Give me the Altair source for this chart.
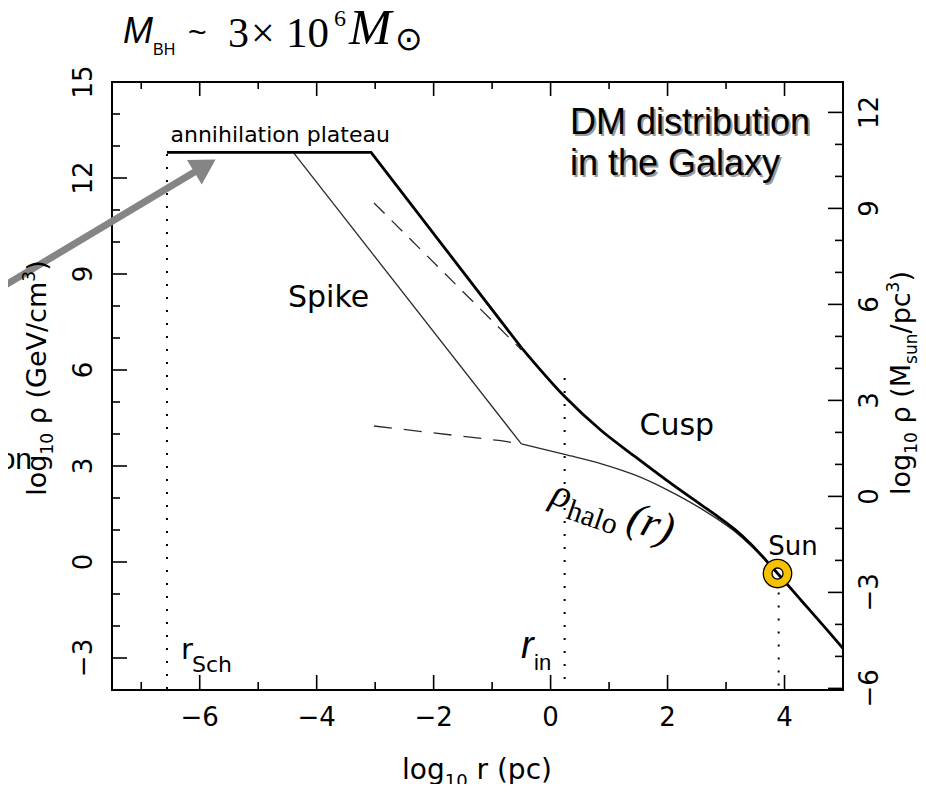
import math
import altair as alt
import pandas as pd

# ---------------- values ----------------
x_domain = [-7.5, 5.0]            # log10 r (pc)
y_domain = [-4.0, 15.0]           # log10 rho (GeV/cm^3)
right_axis_shift = 2.05           # right-axis value = left-axis value - shift

x_major = [-6, -4, -2, 0, 2, 4]
x_minor = [-7, -5, -3, -1, 1, 3]
y_major = [-3, 0, 3, 6, 9, 12, 15]
y_minor = [-4, -2, -1, 1, 2, 4, 5, 7, 8, 10, 11, 13, 14]
y2_major = [-6, -3, 0, 3, 6, 9, 12]
y2_minor = [-5, -4, -2, -1, 1, 2, 4, 5, 7, 8, 10, 11]

# thick curve, part 1: annihilation plateau + spike (straight segments)
plateau_x = [-6.56, -3.07, -0.50]
plateau_y = [12.80, 12.80, 6.70]
# thick curve, part 2: cusp (smooth)
cusp_x = [-0.50, 0.24, 0.87, 1.44, 2.01, 2.58, 2.86, 3.15, 3.43, 3.83, 4.29, 4.75, 5.00]
cusp_y = [6.70, 5.17, 4.10, 3.30, 2.52, 1.78, 1.42, 1.02, 0.55, -0.25, -1.21, -2.17, -2.70]
# thin spike on top of the halo
spike_x = [-4.40, -0.50]
spike_y = [12.80, 3.69]
# thin halo profile
halo_x = [-0.50, 0.24, 0.87, 1.44, 2.01, 2.58, 3.15, 3.43, 3.72]
halo_y = [3.69, 3.36, 3.07, 2.72, 2.24, 1.66, 0.95, 0.50, -0.03]
# dashed extrapolations
upper_dash_x = [-3.02, -0.50]
upper_dash_y = [11.22, 6.63]
lower_dash_x = [-3.02, -0.85, -0.50]
lower_dash_y = [4.25, 3.79, 3.69]

# dotted vertical markers: r_Sch, r_in, Sun
marker_x = [-6.56, 0.24, 3.90]
marker_top = [12.75, 5.75, -0.95]
sun_x = [3.88]
sun_y = [-0.36]

# grey arrow (tail, head centre)
arrow_x = [-9.41, -5.91]
arrow_y = [8.56, 12.38]

# in-plot labels
label_text = ["annihilation plateau", "Spike", "Cusp", "Sun"]
label_x = [-6.50, -4.49, 1.52, 3.72]
label_y = [13.13, 7.98, 3.97, 0.22]
label_size = [22, 30, 30, 26]


def fmt(v):
    return str(v).replace("-", "\u2212")


x_major_text = [fmt(v) for v in x_major]
y_major_text = [fmt(v) for v in y_major]
y2_major_text = [fmt(v) for v in y2_major]

# ---------------- layout ----------------
W, H = 731, 608
PAD = {"left": 104, "top": 74, "right": 75, "bottom": 94}
OX, OY = 8 + PAD["left"], 8 + PAD["top"]   # page position of plot origin

xs = alt.Scale(domain=x_domain, nice=False, zero=False)
ys = alt.Scale(domain=y_domain, nice=False, zero=False)

AX_FONT = "DejaVu Sans"


def X(f="x"):
    return alt.X(f"{f}:Q", scale=xs, axis=None)


def Y(f="y"):
    return alt.Y(f"{f}:Q", scale=ys, axis=None)


def line(xv, yv, **mk):
    df = pd.DataFrame({"x": xv, "y": yv})
    return alt.Chart(df).mark_line(**mk).encode(x=X(), y=Y())


one = pd.DataFrame({"a": [0]})


def ptext(txt, px, py, size, font=AX_FONT, angle=0, style="normal", align="left",
          baseline="alphabetic", color="black", dx=0, dy=0):
    """annotation text at page pixel position (px, py)"""
    return alt.Chart(one).mark_text(
        text=txt, font=font, fontSize=size, fontStyle=style, align=align,
        baseline=baseline, angle=angle, color=color, dx=dx, dy=dy
    ).encode(x=alt.value(px - OX), y=alt.value(py - OY))


CW = {'l': .278, 'o': .612, 'g': .635, '1': .636, '0': .636, ' ': .318, 'ρ': .640,
      '(': .390, ')': .390, 'G': .775, 'e': .615, 'V': .684, '/': .337, 'c': .550,
      'm': .974, '3': .636, 'M': .863, 's': .521, 'u': .634, 'n': .634, 'p': .635,
      'r': .411}


def rich(parts, cx, cy, angle):
    """parts: (text, size, shift) laid out along a direction, centred on (cx, cy).
    Leading spaces are turned into an advance of the pen."""
    a = math.radians(angle)
    d = (math.cos(a), math.sin(a))
    n = (-math.sin(a), math.cos(a))
    lens = [sum(CW.get(ch, .6) for ch in t) * s for t, s, _ in parts]
    total = sum(lens)
    px, py = cx - d[0] * total / 2, cy - d[1] * total / 2
    out = []
    for (t, s, sh), L in zip(parts, lens):
        lead = len(t) - len(t.lstrip(" "))
        adv = lead * CW[' '] * s
        out.append(ptext(t.strip(" "), px + d[0] * adv + n[0] * sh, py + d[1] * adv + n[1] * sh, s,
                         angle=angle % 360))
        px += d[0] * L
        py += d[1] * L
    return out


# ---------------- ticks and tick labels ----------------
TICK = dict(color="black", strokeWidth=1.6)
ytick_major = alt.Chart(pd.DataFrame({"y": y_major})).mark_rule(**TICK).encode(
    y=Y(), x=alt.value(0), x2=alt.value(15))
ytick_minor = alt.Chart(pd.DataFrame({"y": y_minor})).mark_rule(**TICK).encode(
    y=Y(), x=alt.value(0), x2=alt.value(8))
xt_major_b = alt.Chart(pd.DataFrame({"x": x_major})).mark_rule(**TICK).encode(
    x=X(), y=alt.value(H), y2=alt.value(H - 15))
xt_minor_b = alt.Chart(pd.DataFrame({"x": x_minor})).mark_rule(**TICK).encode(
    x=X(), y=alt.value(H), y2=alt.value(H - 8))
xt_major_t = alt.Chart(pd.DataFrame({"x": x_major})).mark_rule(**TICK).encode(
    x=X(), y=alt.value(0), y2=alt.value(14))
xt_minor_t = alt.Chart(pd.DataFrame({"x": x_minor})).mark_rule(**TICK).encode(
    x=X(), y=alt.value(0), y2=alt.value(7))
rtick_major = alt.Chart(pd.DataFrame({"v": y2_major})).transform_calculate(
    y=f"datum.v + {right_axis_shift}").mark_rule(**TICK).encode(
    y=Y(), x=alt.value(W), x2=alt.value(W - 15))
rtick_minor = alt.Chart(pd.DataFrame({"v": y2_minor})).transform_calculate(
    y=f"datum.v + {right_axis_shift}").mark_rule(**TICK).encode(
    y=Y(), x=alt.value(W), x2=alt.value(W - 8))

xlab = alt.Chart(pd.DataFrame({"x": x_major, "t": x_major_text})).mark_text(
    font=AX_FONT, fontSize=26, align="center", baseline="top", color="black").encode(
    x=X(), y=alt.value(H + 15), text="t:N")
ylab = alt.Chart(pd.DataFrame({"y": y_major, "t": y_major_text})).mark_text(
    font=AX_FONT, fontSize=26, align="center", baseline="alphabetic", angle=270, color="black").encode(
    y=Y(), x=alt.value(-20), text="t:N")
y2lab = alt.Chart(pd.DataFrame({"v": y2_major, "t": y2_major_text})).transform_calculate(
    y=f"datum.v + {right_axis_shift}").mark_text(
    font=AX_FONT, fontSize=26, align="center", baseline="top", angle=270, color="black").encode(
    y=Y(), x=alt.value(W + 14), text="t:N")

# ---------------- curves ----------------
thick1 = line(plateau_x, plateau_y, color="black", strokeWidth=2.8, strokeJoin="miter")
thick2 = line(cusp_x, cusp_y, color="black", strokeWidth=2.8, interpolate="monotone")
spike = line(spike_x, spike_y, color="#2a2a2a", strokeWidth=1.3)
halo = line(halo_x, halo_y, color="#2a2a2a", strokeWidth=1.3, interpolate="monotone")
dash_up = line(upper_dash_x, upper_dash_y, color="#2a2a2a", strokeWidth=1.3, strokeDash=[15, 10])
dash_lo = line(lower_dash_x, lower_dash_y, color="#2a2a2a", strokeWidth=1.3, strokeDash=[18, 12])

vlines = alt.Chart(pd.DataFrame({"x": marker_x, "top": marker_top, "bottom": [y_domain[0]] * 3})).mark_rule(
    color="black", strokeWidth=2, strokeDash=[2, 11]).encode(
    x=X(), y=Y("top"), y2="bottom:Q")

sun_df = pd.DataFrame({"x": sun_x, "y": sun_y})
sun_outline = alt.Chart(sun_df).mark_point(shape="circle", filled=False, size=390, stroke="black",
                                           strokeWidth=10, opacity=1).encode(x=X(), y=Y())
sun_ring = alt.Chart(sun_df).mark_point(shape="circle", filled=False, size=390, stroke="#F6C100",
                                        strokeWidth=7.4, opacity=1).encode(x=X(), y=Y())

arrow_line = line(arrow_x, arrow_y, color="#858585", strokeWidth=7, clip=False)
arrow_head = alt.Chart(pd.DataFrame({"x": [arrow_x[1]], "y": [arrow_y[1]]})).mark_point(
    shape="triangle-right", filled=True, size=818, color="#858585", opacity=1, angle=329).encode(x=X(), y=Y())

labels = alt.Chart(pd.DataFrame({"x": label_x, "y": label_y, "t": label_text, "s": label_size})).mark_text(
    font=AX_FONT, align="left", baseline="alphabetic", color="black").encode(
    x=X(), y=Y(), text="t:N", size=alt.Size("s:Q", scale=None, legend=None))

# ---------------- annotations ----------------
ann = []
# title  M_BH ~ 3x10^6 M_sun
ann += [
    ptext("M", 123, 43, 36, font="Liberation Sans", style="italic"),
    ptext("BH", 153, 55, 16, font="Liberation Sans"),
    ptext("~", 188, 43, 32, font="Liberation Sans"),
    ptext("3", 228, 47, 42, font="Liberation Serif"),
    ptext("×", 251, 47, 42, font="Liberation Serif"),
    ptext("10", 286, 47, 43, font="Liberation Serif"),
    ptext("6", 334, 26, 24, font="Liberation Serif"),
    ptext("M", 349, 44, 51, font="Liberation Serif", style="italic"),
    ptext("⊙", 395, 50, 33, font="DejaVu Sans"),
]
# DM distribution text with shadow
for line_txt, base in [("DM distribution", 134), ("in the Galaxy", 175)]:
    ann.append(ptext(line_txt, 570, base, 36, font="Liberation Sans", color="#9a9a9a", dx=2, dy=2))
    ann.append(ptext(line_txt, 570, base, 36, font="Liberation Sans"))
# r_Sch and r_in
ann += [
    ptext("r", 181, 659, 29),
    ptext("Sch", 192, 672, 22),
    ptext("r", 521, 658, 38, font="Liberation Sans", style="italic"),
    ptext("in", 534, 670, 22, font="Liberation Sans"),
]
# rho_halo(r), rotated
ang = 19
ca, sa = math.cos(math.radians(ang)), math.sin(math.radians(ang))
rx, ry = 549, 503
ann.append(ptext("ρ", rx, ry, 40, font="Liberation Serif", style="italic", angle=ang))
hx, hy = rx + 20 * ca - 9 * sa, ry + 20 * sa + 9 * ca
ann.append(ptext("halo", hx, hy, 30, font="Liberation Serif", angle=ang))
px2, py2 = rx + 80 * ca, ry + 80 * sa
ann.append(ptext("(r)", px2, py2, 44, font="Liberation Serif", style="italic", angle=ang))
# cut-off word at the left edge
ann.append(ptext("on", 32, 469, 30, font="Liberation Sans", align="right"))
# axis titles
ann += rich([("log", 28, 0), ("10", 18, 8), (" r (pc)", 28, 0)], 477, 779, 0)
ann += rich([("log", 27, 0), ("10", 17, 7), (" ρ (GeV/cm", 27, 0), ("3", 17, -11), (")", 27, 0)],
            46, 378, 270)
ann += rich([("log", 27, 0), ("10", 17, 7), (" ρ (M", 27, 0), ("sun", 17, 7), ("/pc", 27, 0),
             ("3", 17, -11), (")", 27, 0)], 910, 383, 270)

chart = alt.layer(
    ytick_major, ytick_minor, xt_major_b, xt_minor_b, xt_major_t, xt_minor_t, rtick_major, rtick_minor,
    xlab, ylab, y2lab,
    dash_up, dash_lo, spike, halo, vlines, thick1, thick2, sun_outline, sun_ring,
    arrow_line, arrow_head, labels, *ann
).properties(
    width=W, height=H,
    autosize=alt.AutoSizeParams(type="none"),
    padding=PAD,
    background="white",
).configure_view(stroke="black", strokeWidth=2)

chart.save("out.html", embed_options={"renderer": "svg", "actions": False})
